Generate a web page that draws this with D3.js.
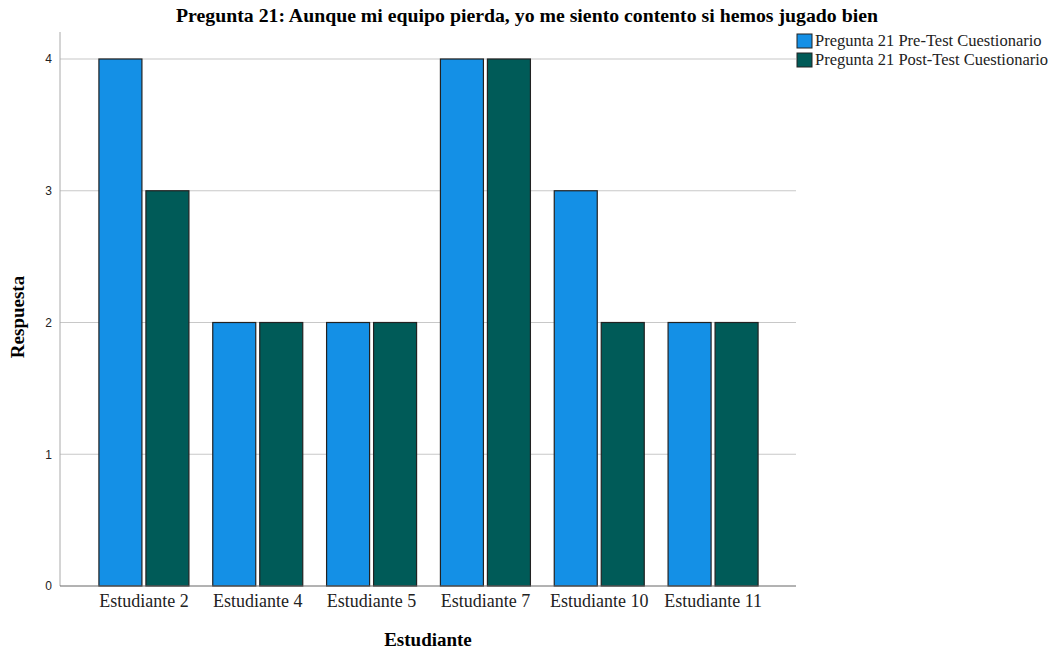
<!DOCTYPE html>
<html><head><meta charset="utf-8">
<script src="https://cdn.jsdelivr.net/npm/d3@7"></script>
<style>body{margin:0;background:#fff}</style></head>
<body><svg id="c" width="1057" height="649"></svg>
<script>
const categories = ["Estudiante 2","Estudiante 4","Estudiante 5","Estudiante 7","Estudiante 10","Estudiante 11"];
const seriesNames = ["Pregunta 21 Pre-Test Cuestionario","Pregunta 21 Post-Test Cuestionario"];
const preValues = [4,2,2,4,3,2];
const postValues = [3,2,2,4,2,2];
const yTicks = [0,1,2,3,4];
const colors = ["#1490e6","#005b58"];
const serif = "Liberation Serif, Times New Roman, serif";

const svg = d3.select("#c");
const x0 = d3.scaleBand().domain(categories).range([87,770]).padding(0);
const bw = x0.bandwidth();
const groupW = 90;
const x1 = d3.scaleBand().domain([0,1]).range([(bw-groupW)/2,(bw+groupW)/2]).paddingInner(0.085);
const y = d3.scaleLinear().domain([0,4]).range([586,59]);

// gridlines
svg.append("g").selectAll("line").data(yTicks.filter(d=>d>0)).join("line")
  .attr("x1",60).attr("x2",796).attr("y1",d=>y(d)).attr("y2",d=>y(d))
  .attr("stroke","#c8c8c8").attr("stroke-width",1.2);

// bars
const series = [preValues, postValues];
const g = svg.append("g");
categories.forEach((c,i)=>{
  series.forEach((vals,s)=>{
    g.append("rect")
      .attr("x", x0(c)+x1(s)).attr("y", y(vals[i]))
      .attr("width", x1.bandwidth()).attr("height", y(0)-y(vals[i]))
      .attr("fill", colors[s]).attr("stroke","#222").attr("stroke-width",1.2);
  });
});

// axes
const yAxis = d3.axisLeft(y).tickValues(yTicks).tickFormat(d3.format("d")).tickSize(0).tickPadding(8);
const ya = svg.append("g").attr("transform","translate(60,0)").call(yAxis);
ya.select(".domain").attr("stroke","#aaa").attr("d","M0,32V586");
ya.selectAll("text").attr("font-family","Liberation Sans, Arial, sans-serif").attr("font-size",12).attr("fill","#222");

const xAxis = d3.axisBottom(x0).tickSize(0).tickPadding(8);
const xa = svg.append("g").attr("transform","translate(0,586)").call(xAxis);
xa.select(".domain").attr("stroke","#666").attr("d","M60,0H796");
xa.selectAll("text").attr("font-family",serif).attr("font-size",18).attr("fill","#222");

// titles
svg.append("text").attr("x",527).attr("y",22).attr("text-anchor","middle")
  .attr("font-family",serif).attr("font-weight","bold").attr("font-size",19.8)
  .text("Pregunta 21: Aunque mi equipo pierda, yo me siento contento si hemos jugado bien");
svg.append("text").attr("x",428).attr("y",646).attr("text-anchor","middle")
  .attr("font-family",serif).attr("font-weight","bold").attr("font-size",19)
  .text("Estudiante");
svg.append("text").attr("transform","translate(24,317) rotate(-90)").attr("text-anchor","middle")
  .attr("font-family",serif).attr("font-weight","bold").attr("font-size",19)
  .text("Respuesta");

// legend
const lg = svg.append("g");
seriesNames.forEach((n,i)=>{
  lg.append("rect").attr("x",797).attr("y",34+i*19).attr("width",15).attr("height",14)
    .attr("fill",colors[i]).attr("stroke","#222").attr("stroke-width",1);
  lg.append("text").attr("x",815).attr("y",46+i*19)
    .attr("font-family",serif).attr("font-size",16.5).attr("fill","#222").text(n);
});
</script></body></html>
